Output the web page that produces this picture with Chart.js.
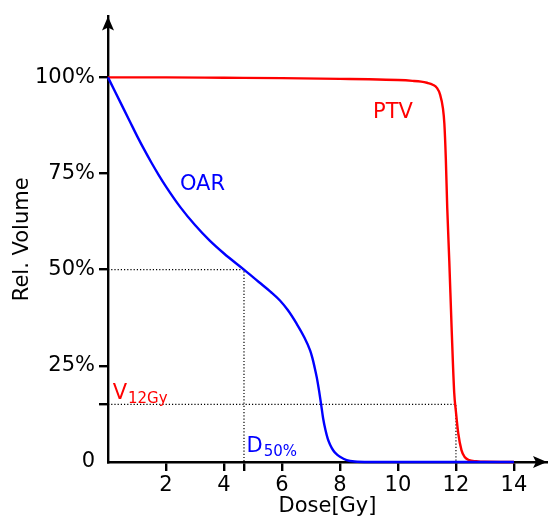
<!DOCTYPE html>
<html>
<head>
<meta charset="utf-8">
<script src="https://cdn.jsdelivr.net/npm/chart.js@4.4.1/dist/chart.umd.min.js"></script>
<style>
  html, body { margin: 0; padding: 0; background: #fff; }
  #wrap { width: 548px; height: 521px; }
</style>
</head>
<body>
<div id="wrap"><canvas id="dvh" width="548" height="521"></canvas></div>
<script>
// dose-volume histogram, values
const ptvDose = [0, 2, 4, 6, 8, 9, 10, 10.5, 10.8, 11.0, 11.2, 11.35, 11.45, 11.55, 11.6, 11.65, 11.7, 11.77, 11.85, 11.94, 12.0, 12.08, 12.19, 12.3, 12.45, 12.7, 13, 14];
const ptvVolume = [100, 100, 99.9, 99.8, 99.6, 99.5, 99.3, 99.1, 98.9, 98.6, 98.1, 97.2, 95.6, 92, 88, 79, 66, 52.3, 35, 18, 13, 7.4, 3.1, 1.3, 0.5, 0.2, 0.05, 0];

const oarDose = [0, 0.25, 0.5, 0.75, 1, 1.25, 1.5, 1.75, 2, 2.5, 3, 3.5, 4, 4.69, 5.2, 5.6, 5.93, 6.2, 6.51, 6.75, 6.97, 7.05, 7.12, 7.2, 7.28, 7.35, 7.42, 7.5, 7.58, 7.66, 7.77, 7.9, 8.0, 8.23, 8.5, 9, 14];
const oarVolume = [100, 96.2, 92.4, 88.6, 84.8, 81.2, 77.8, 74.6, 71.6, 66.2, 61.6, 57.6, 54.2, 50, 46.8, 44.3, 42, 39.5, 35.9, 32.7, 29, 27, 24.8, 22, 18.5, 15, 11.3, 8.3, 6.0, 4.5, 3.0, 1.9, 1.35, 0.5, 0.12, 0, 0];

const d50 = 4.69;   // dose at 50% OAR volume
const v12 = 15;     // PTV volume at 12 Gy
const v12Dose = 12;

const xTicks = [2, 4, d50, 6, 8, 10, 12, 14];
const yTicks = [0, v12, 25, 50, 75, 100];
const yTickLabels = { 0: '0', 25: '25%', 50: '50%', 75: '75%', 100: '100%' };

const RED = '#ff0000';
const BLUE = '#0000ff';
const FONT = "'DejaVu Sans', Verdana, sans-serif";

// text notes placed in data units: [text, subscript, x, y, colour]
const notes = [
  ['PTV', '', 9.14, 89.5, RED],
  ['OAR', '', 2.48, 70.7, BLUE],
  ['V', '12Gy', 0.16, 16.5, RED],
  ['D', '50%', 4.78, 2.7, BLUE]
];

function toPoints(xs, ys) {
  return xs.map((x, i) => ({ x: x, y: ys[i] }));
}

const extrasPlugin = {
  id: 'extras',
  afterDatasetsDraw(chart) {
    const ctx = chart.ctx;
    const xs = chart.scales.x, ys = chart.scales.y;
    ctx.save();
    ctx.textBaseline = 'alphabetic';
    ctx.textAlign = 'left';
    notes.forEach(n => {
      const px = xs.getPixelForValue(n[2]);
      const py = ys.getPixelForValue(n[3]);
      ctx.fillStyle = n[4];
      ctx.font = '21px ' + FONT;
      ctx.fillText(n[0], px, py);
      if (n[1]) {
        const w = ctx.measureText(n[0]).width;
        ctx.font = '15px ' + FONT;
        ctx.fillText(n[1], px + w + 1, py + 4);
      }
    });
    ctx.restore();
  },
  afterDraw(chart) {
    const ctx = chart.ctx;
    const a = chart.chartArea;
    ctx.save();
    ctx.fillStyle = '#000';
    // y axis arrow
    ctx.beginPath();
    ctx.moveTo(a.left, a.top);
    ctx.lineTo(a.left + 6, a.top + 14);
    ctx.lineTo(a.left, a.top + 11);
    ctx.lineTo(a.left - 6, a.top + 14);
    ctx.closePath();
    ctx.fill();
    // x axis arrow
    ctx.beginPath();
    ctx.moveTo(a.right, a.bottom);
    ctx.lineTo(a.right - 14, a.bottom - 6);
    ctx.lineTo(a.right - 11, a.bottom);
    ctx.lineTo(a.right - 14, a.bottom + 6);
    ctx.closePath();
    ctx.fill();
    ctx.restore();
  }
};

Chart.defaults.font.family = FONT;
Chart.defaults.font.size = 21;
Chart.defaults.color = '#000';

const dotted = { borderColor: '#000', borderWidth: 1.2, borderDash: [1.2, 2], pointRadius: 0, tension: 0, fill: false };

new Chart(document.getElementById('dvh'), {
  type: 'line',
  data: {
    datasets: [
      {
        label: 'OAR', data: toPoints(oarDose, oarVolume), borderColor: BLUE,
        borderWidth: 2.4, pointRadius: 0, cubicInterpolationMode: 'monotone', order: 0
      },
      {
        label: 'PTV', data: toPoints(ptvDose, ptvVolume), borderColor: RED,
        borderWidth: 2.4, pointRadius: 0, cubicInterpolationMode: 'monotone', order: 1
      },
      Object.assign({ label: 'D50', data: [{ x: 0, y: 50 }, { x: d50, y: 50 }, { x: d50, y: 0 }], order: 2 }, dotted),
      Object.assign({ label: 'V12', data: [{ x: 0, y: v12 }, { x: v12Dose, y: v12 }, { x: v12Dose, y: 0 }], order: 2 }, dotted)
    ]
  },
  options: {
    responsive: false,
    animation: false,
    devicePixelRatio: 1,
    clip: false,
    layout: { padding: { left: 0, right: 1, top: 15, bottom: 0 } },
    plugins: { legend: { display: false }, tooltip: { enabled: false } },
    scales: {
      x: {
        type: 'linear',
        min: 0,
        max: 15.14,
        afterBuildTicks: s => { s.ticks = xTicks.map(v => ({ value: v })); },
        afterFit: s => { s.height = 59; },
        ticks: {
          autoSkip: false,
          maxRotation: 0,
          padding: 2,
          callback: v => (v === d50 ? '' : String(v))
        },
        grid: { display: true, drawOnChartArea: false, drawTicks: true, tickLength: 9, color: '#000', lineWidth: 2.4 },
        border: { display: true, color: '#000', width: 2.4 },
        title: { display: true, text: 'Dose[Gy]', padding: { top: 0, bottom: 2 } }
      },
      y: {
        type: 'linear',
        min: 0,
        max: 115.8,
        afterBuildTicks: s => { s.ticks = yTicks.map(v => ({ value: v })); },
        afterFit: s => { s.width = 108; },
        ticks: {
          autoSkip: false,
          padding: 4,
          callback: v => (yTickLabels[v] !== undefined ? yTickLabels[v] : '')
        },
        grid: {
          display: true, drawOnChartArea: false, drawTicks: true, tickLength: 9, lineWidth: 2.4,
          color: c => (c.tick && c.tick.value === 0 ? 'rgba(0,0,0,0)' : '#000')
        },
        border: { display: true, color: '#000', width: 2.4 },
        title: { display: true, text: 'Rel. Volume', padding: { top: 10, bottom: 0 } }
      }
    }
  },
  plugins: [extrasPlugin]
});
</script>
</body>
</html>
